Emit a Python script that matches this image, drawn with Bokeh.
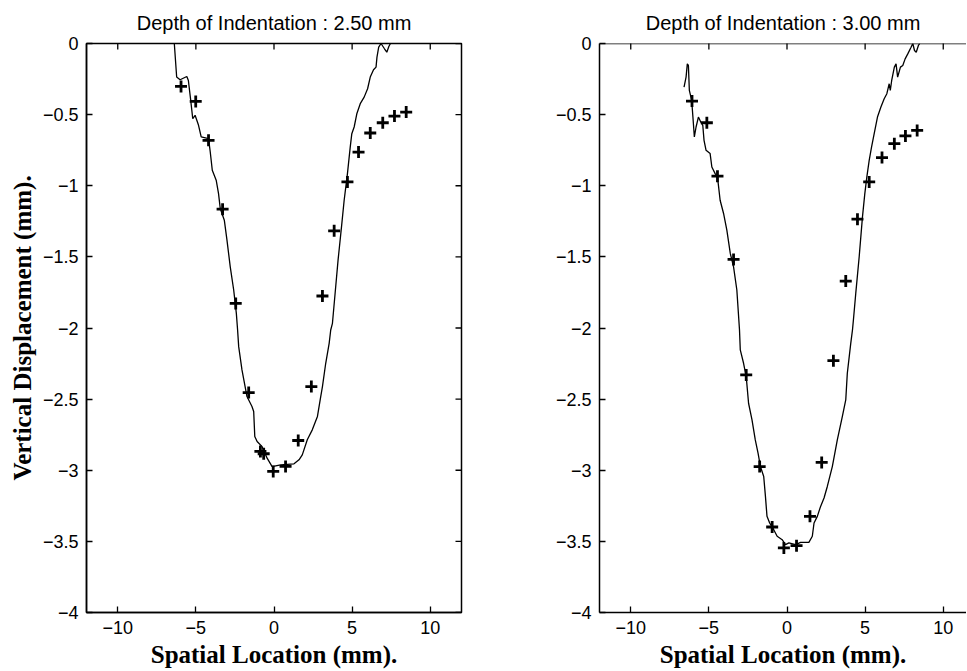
import math
from bokeh.plotting import figure
from bokeh.layouts import row
from bokeh.models import FixedTicker, Range1d, Span
from bokeh.embed import file_html
from bokeh.resources import INLINE

# ---------------- data ----------------
titles = ["Depth of Indentation : 2.50 mm", "Depth of Indentation : 3.00 mm"]
x_label = "Spatial Location (mm)."
y_label = "Vertical Displacement (mm)."
x_ticks = [-10, -5, 0, 5, 10]
y_ticks = [0, -0.5, -1, -1.5, -2, -2.5, -3, -3.5, -4]
x_lim = [-12, 12]
y_lim = [-4, 0]

# measured profile, 2.50 mm indentation
meas1_x = [-6.38, -6.23, -6.01, -5.58, -5.48, -5.33, -5.20, -5.05, -4.83, -4.66, -4.19, -4.08,
           -3.95, -3.70, -3.55, -3.44, -3.18, -3.01, -2.80, -2.58, -2.41, -2.33, -2.26, -2.05,
           -1.73, -1.41, -1.30, -1.23, -1.08, -0.76, -0.44, -0.12, 0.42, 1.28, 1.60, 1.81,
           2.13, 2.45, 2.78, 2.99, 3.10, 3.31, 3.53, 3.63, 3.74, 3.91, 4.10, 4.32, 4.49, 4.70,
           4.88, 4.98, 5.13, 5.30, 5.52, 5.77, 5.99, 6.16, 6.37, 6.53, 6.59, 6.70, 6.85, 7.07,
           7.22, 7.35, 7.45]
meas1_y = [0.0, -0.236, -0.255, -0.232, -0.26, -0.40, -0.529, -0.505, -0.575, -0.657, -0.669, -0.763,
           -0.891, -0.961, -1.055, -1.160, -1.242, -1.382, -1.570, -1.733, -1.897, -2.014, -2.131, -2.295,
           -2.482, -2.552, -2.587, -2.763, -2.798, -2.834, -2.915, -2.974, -2.962, -2.955, -2.927, -2.892,
           -2.786, -2.716, -2.622, -2.482, -2.412, -2.248, -2.108, -2.014, -1.967, -1.757, -1.523, -1.289,
           -1.102, -0.915, -0.727, -0.634, -0.587, -0.494, -0.423, -0.377, -0.318, -0.236, -0.185, -0.166,
           -0.096, -0.026, 0.0, -0.037, -0.061, -0.021, 0.0]
# model points, 2.50 mm indentation
model1_x = [-5.95, -5.01, -4.19, -3.29, -2.45, -1.62, -0.87, -0.66, -0.05, 0.74, 1.55, 2.39,
            3.10, 3.85, 4.70, 5.41, 6.16, 6.96, 7.71, 8.46]
model1_y = [-0.302, -0.407, -0.681, -1.165, -1.827, -2.454, -2.868, -2.884, -3.008, -2.973, -2.791, -2.412,
            -1.775, -1.317, -0.973, -0.763, -0.629, -0.557, -0.510, -0.482]

# measured profile, 3.00 mm indentation
meas2_x = [-6.59, -6.46, -6.38, -6.31, -6.25, -6.10, -5.99, -5.93, -5.82, -5.67, -5.52, -5.39,
           -5.31, -5.18, -4.92, -4.81, -4.60, -4.45, -4.28, -4.06, -3.85, -3.63, -3.42, -3.21,
           -3.04, -2.99, -2.78, -2.61, -2.46, -2.24, -2.03, -1.85, -1.70, -1.49, -1.38, -1.28,
           -1.11, -0.85, -0.63, -0.31, -0.10, 0.12, 0.55, 0.87, 1.40, 1.62, 1.73, 1.94,
           2.15, 2.37, 2.58, 2.90, 3.22, 3.54, 3.76, 3.86, 4.08, 4.19, 4.25, 4.40,
           4.62, 4.83, 4.98, 5.11, 5.26, 5.41, 5.58, 5.79, 6.01, 6.22, 6.39, 6.54,
           6.61, 6.70, 6.87, 6.98, 7.08, 7.26, 7.41, 7.56, 7.73, 7.94, 8.05, 8.16,
           8.27, 8.41, 8.50]
meas2_y = [-0.306, -0.236, -0.143, -0.154, -0.330, -0.400, -0.564, -0.657, -0.587, -0.517, -0.552, -0.575,
           -0.681, -0.751, -0.774, -0.868, -0.915, -0.938, -1.102, -1.195, -1.312, -1.476, -1.570, -1.733,
           -2.014, -2.154, -2.248, -2.342, -2.529, -2.646, -2.787, -2.881, -2.974, -3.044, -3.184, -3.324,
           -3.371, -3.418, -3.464, -3.488, -3.523, -3.511, -3.523, -3.507, -3.507, -3.464, -3.371, -3.324,
           -3.254, -3.195, -3.114, -2.974, -2.787, -2.623, -2.506, -2.318, -2.108, -2.014, -1.944, -1.757,
           -1.499, -1.219, -1.055, -0.938, -0.821, -0.728, -0.634, -0.517, -0.447, -0.388, -0.353, -0.283,
           -0.330, -0.260, -0.166, -0.143, -0.236, -0.166, -0.154, -0.108, -0.073, -0.026, 0.0, -0.049,
           -0.061, -0.014, 0.0]
# model points, 3.00 mm indentation
model2_x = [-6.08, -5.13, -4.45, -3.42, -2.61, -1.75, -0.95, -0.20, 0.61, 1.47, 2.22, 2.97,
            3.76, 4.51, 5.26, 6.08, 6.87, 7.58, 8.33]
model2_y = [-0.405, -0.557, -0.933, -1.518, -2.330, -2.974, -3.399, -3.546, -3.530, -3.324, -2.945, -2.230,
            -1.670, -1.235, -0.973, -0.802, -0.704, -0.650, -0.611]


def fmt(v):
    return ("%g" % v).replace("-", "\u2212")


TICK_FONT = "Liberation Sans"
LABEL_FONT = "Liberation Serif"
FIG_H = 670


def style_axis(ax, ticks, label=None):
    ax.ticker = FixedTicker(ticks=ticks)
    ax.minor_tick_line_color = None
    ax.major_tick_in = 6
    ax.major_tick_out = 0
    ax.major_tick_line_width = 1.3
    ax.axis_line_width = 1.5
    ax.axis_line_color = "black"
    ax.major_tick_line_color = "black"
    ax.major_label_overrides = {t: fmt(t) for t in ticks}
    ax.major_label_text_font = TICK_FONT
    ax.major_label_text_font_size = "18px"
    ax.major_label_text_color = "black"
    ax.major_label_standoff = 8
    if label:
        ax.axis_label = label
        ax.axis_label_text_font = LABEL_FONT
        ax.axis_label_text_font_style = "bold"
        ax.axis_label_text_font_size = "25px"
        ax.axis_label_text_color = "black"
        ax.axis_label_standoff = 4


def make_fig(title, width, x_end, border_left, border_right, ylab, full_box, title_offset,
             mx, my, px, py):
    p = figure(width=width, height=FIG_H, x_range=Range1d(x_lim[0], x_end),
               y_range=Range1d(y_lim[0], y_lim[1]),
               output_backend="svg", toolbar_location=None,
               min_border_left=border_left, min_border_right=border_right,
               min_border_top=43, min_border_bottom=57, title=title)
    p.title.align = "center"
    p.title.offset = title_offset
    p.title.standoff = 19
    p.title.text_font = TICK_FONT
    p.title.text_font_style = "normal"
    p.title.text_font_size = "20px"
    p.title.text_color = "black"
    p.grid.visible = False
    p.background_fill_color = "white"
    p.border_fill_color = "white"

    style_axis(p.xaxis[0], x_ticks, x_label)
    style_axis(p.yaxis[0], y_ticks, ylab)

    # box: top edge with inward ticks, and right edge on the first panel
    p.scatter(x_ticks, [y_lim[1]] * len(x_ticks), marker="dash", angle=math.pi / 2,
              size=12, line_width=1.3, line_color="black")
    if full_box:
        p.outline_line_color = "black"
        p.outline_line_width = 1.5
        p.scatter([x_lim[1]] * len(y_ticks), y_ticks, marker="dash",
                  size=12, line_width=1.3, line_color="black")
    else:
        p.outline_line_color = None
        p.add_layout(Span(location=y_lim[1], dimension="width", line_color="black",
                          line_width=1.5))

    p.line(mx, my, line_color="black", line_width=1.3)
    p.scatter(px, py, marker="cross", size=12, line_width=2.8, line_color="black")
    return p


# panel 1: frame 86..461 ; panel 2: frame 599..966 (cut at the window edge)
p1 = make_fig(titles[0], 508, x_lim[1], 86, 47, y_label, True, 0,
              meas1_x, meas1_y, model1_x, model1_y)
p2 = make_fig(titles[1], 458, x_lim[0] + 367 / (375 / 24), 91, 0, None, False, 4,
              meas2_x, meas2_y, model2_x, model2_y)

layout = row(p1, p2)
open("out.html", "w").write(file_html(layout, INLINE))
